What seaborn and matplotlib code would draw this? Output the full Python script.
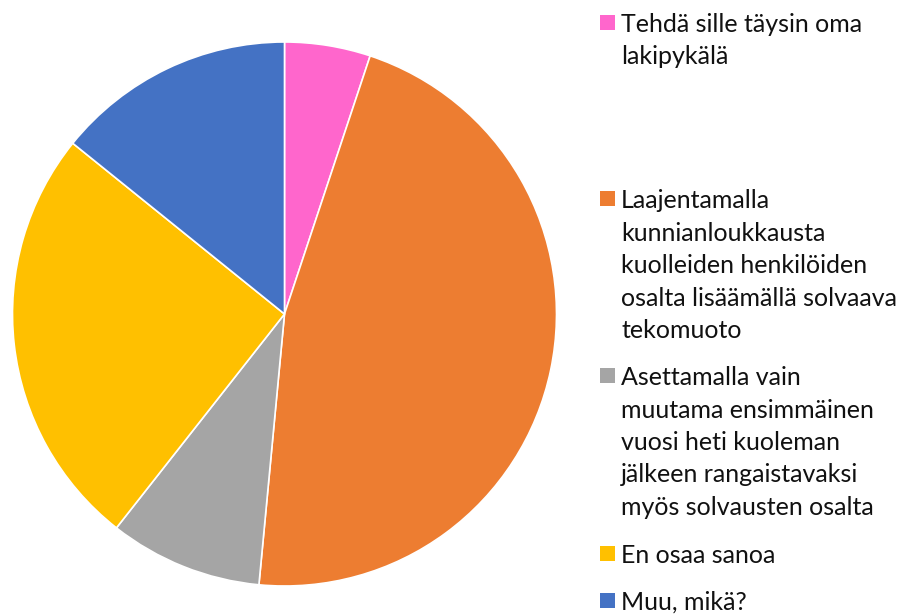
import matplotlib

matplotlib.use("Agg")
import matplotlib.pyplot as plt
from matplotlib.patches import Rectangle
import seaborn as sns

LABELS = [
    "Tehdä sille täysin oma\nlakipykälä",
    "Laajentamalla\nkunnianloukkausta\nkuolleiden henkilöiden\nosalta lisäämällä solvaava\ntekomuoto",
    "Asettamalla vain\nmuutama ensimmäinen\nvuosi heti kuoleman\njälkeen rangaistavaksi\nmyös solvausten osalta",
    "En osaa sanoa",
    "Muu, mikä?",
]
SHARES = [5.1, 46.4, 9.1, 25.2, 14.2]  # percent
COLORS = ["#FF66CC", "#ED7D31", "#A5A5A5", "#FFC000", "#4472C4"]
# first-line baseline of each legend entry, in pixels from the top
LEGEND_BASELINES = [32, 208, 385, 563, 610]
LINE_STEP = 32.5

W, H = 899, 615

sns.set_theme(style="white")
plt.rcParams["font.family"] = ["Lato", "DejaVu Sans"]

fig = plt.figure(figsize=(W / 100, H / 100), dpi=100)
ax = fig.add_axes([12.5 / W, (H - 586) / H, 544 / W, 544 / H])
ax.pie(
    SHARES,
    colors=COLORS,
    startangle=90,
    counterclock=False,
    radius=1,
    wedgeprops={"edgecolor": "white", "linewidth": 1.2},
)
ax.set_xlim(-1, 1)
ax.set_ylim(-1, 1)
ax.set_aspect("equal")
ax.axis("off")

for label, color, base in zip(LABELS, COLORS, LEGEND_BASELINES):
    for i, line in enumerate(label.split("\n")):
        yb = (H - base - i * LINE_STEP) / H
        fig.text(621 / W, yb, line, fontsize=18, va="baseline", ha="left",
                 color="#111111")
    fig.patches.append(Rectangle((600 / W, (H - base + 2) / H), 15 / W, 15 / H,
                                 transform=fig.transFigure, facecolor=color,
                                 edgecolor="none"))

fig.savefig("out.png", dpi=100)
